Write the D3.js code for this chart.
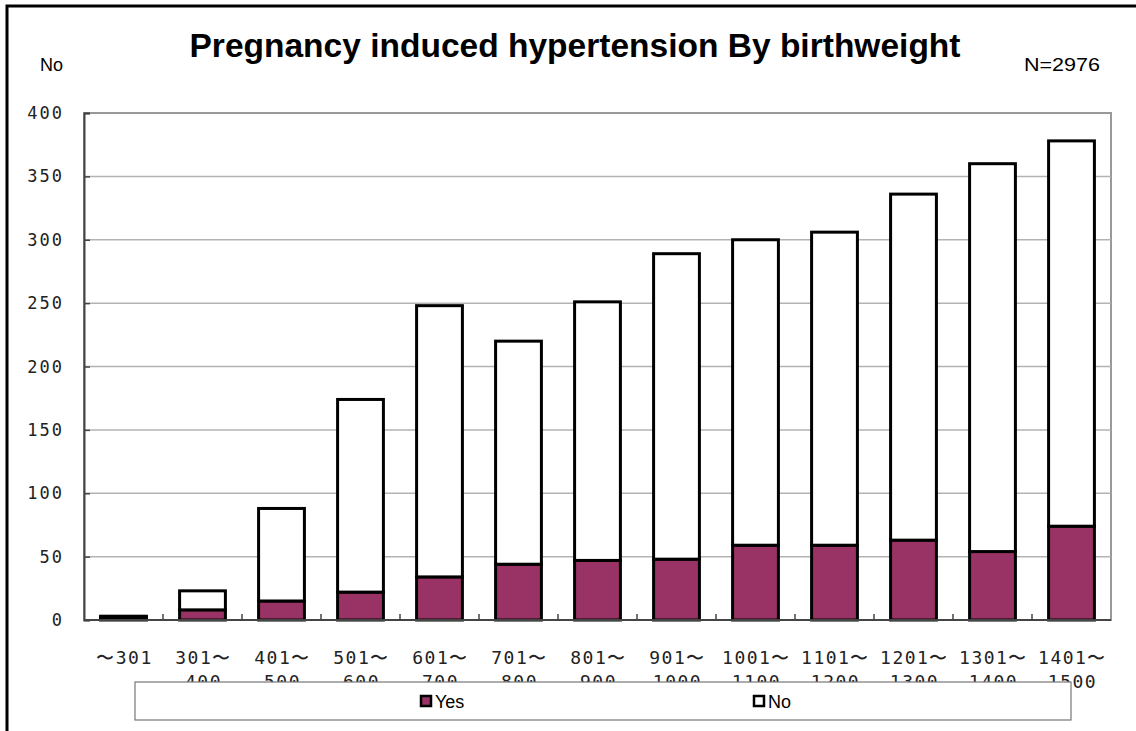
<!DOCTYPE html>
<html><head><meta charset="utf-8">
<script src="https://cdn.jsdelivr.net/npm/d3@7/dist/d3.min.js"></script>
<style>body{margin:0;background:#fff;}svg{display:block;}</style>
</head><body>
<svg id="chart" width="1136" height="731"></svg>
<script>
const categoriesLine1 = ["〜301","301〜","401〜","501〜","601〜","701〜","801〜","901〜","1001〜","1101〜","1201〜","1301〜","1401〜"];
const categoriesLine2 = ["","400","500","600","700","800","900","1000","1100","1200","1300","1400","1500"];
const yesValues = [2,8,15,22,34,44,47,48,59,59,63,54,74];
const noValues  = [1,15,73,152,214,176,204,241,241,247,273,306,304];
const yTicks = [0,50,100,150,200,250,300,350,400];
const seriesNames = ["Yes","No"];
const seriesColors = ["#993366","#ffffff"];

const svg = d3.select("#chart");
const m = {left:84, right:1111, top:113, bottom:620};
const x = d3.scaleBand().domain(d3.range(categoriesLine1.length)).range([m.left,m.right]).paddingInner(0.42).paddingOuter(0.21);
const xb = d3.scaleBand().domain(d3.range(categoriesLine1.length)).range([m.left,m.right]);
const y = d3.scaleLinear().domain([0,400]).range([m.bottom,m.top]);

// outer frame
svg.append("path").attr("d","M7,731 L7,6 L1136,6").attr("fill","none").attr("stroke","#000").attr("stroke-width",3);

// title
svg.append("text").attr("x",575).attr("y",57).attr("text-anchor","middle")
  .attr("font-family","'Liberation Sans', Arial, sans-serif").attr("font-weight","bold").attr("font-size",33)
  .attr("textLength",771).attr("lengthAdjust","spacingAndGlyphs")
  .text("Pregnancy induced hypertension By birthweight");
svg.append("text").attr("x",40).attr("y",71).attr("font-family","'Liberation Sans', Arial, sans-serif").attr("font-size",18).text("No");
svg.append("text").attr("x",1024).attr("y",71).attr("font-family","'Liberation Sans', Arial, sans-serif").attr("font-size",18)
  .attr("textLength",76).attr("lengthAdjust","spacingAndGlyphs").text("N=2976");

// plot area border
svg.append("rect").attr("x",m.left).attr("y",m.top).attr("width",m.right-m.left).attr("height",m.bottom-m.top)
  .attr("fill","none").attr("stroke","#999").attr("stroke-width",2);

// grid
svg.append("g").selectAll("line").data(yTicks.filter(d=>d>0&&d<400)).join("line")
  .attr("x1",m.left).attr("x2",m.right).attr("y1",d=>y(d)).attr("y2",d=>y(d)).attr("stroke","#b3b3b3").attr("stroke-width",1.5);

// y axis
const yAxis = d3.axisRight(y).tickValues(yTicks).tickSize(6).tickFormat("");
const ga = svg.append("g").attr("transform",`translate(${m.left},0)`).call(yAxis);
ga.select(".domain").attr("stroke","#444").attr("stroke-width",2);
ga.selectAll(".tick line").attr("stroke","#444").attr("stroke-width",1.5);
svg.append("g").selectAll("text").data(yTicks).join("text")
  .attr("x",64).attr("y",d=>y(d)+6).attr("text-anchor","end")
  .attr("font-family","'DejaVu Sans Mono', monospace").attr("font-size",17).attr("letter-spacing",2).attr("fill","#222").text(d=>d);

// stacked bars
const stackData = yesValues.map((v,i)=>({i, Yes:v, No:noValues[i]}));
const stack = d3.stack().keys(seriesNames)(stackData);
svg.append("g").selectAll("g").data(stack).join("g").attr("fill",(d,k)=>seriesColors[k])
  .selectAll("rect").data(d=>d).join("rect")
  .attr("x",d=>x(d.data.i)).attr("width",x.bandwidth())
  .attr("y",d=>y(d[1])).attr("height",d=>y(d[0])-y(d[1]))
  .attr("stroke","#000").attr("stroke-width",3);

// x axis line & ticks
svg.append("line").attr("x1",m.left).attr("x2",m.right).attr("y1",m.bottom).attr("y2",m.bottom).attr("stroke","#444").attr("stroke-width",2);
svg.append("g").selectAll("line").data(d3.range(1,categoriesLine1.length)).join("line")
  .attr("x1",d=>xb(d)).attr("x2",d=>xb(d)).attr("y1",m.bottom).attr("y2",m.bottom-6).attr("stroke","#444").attr("stroke-width",1.5);

// x labels
const xl = svg.append("g").attr("font-family","'DejaVu Sans Mono', monospace").attr("font-size",18).attr("letter-spacing",1.5).attr("fill","#222");
xl.selectAll("text.l1").data(categoriesLine1).join("text").attr("class","l1")
  .attr("x",(d,i)=>xb(i)+xb.bandwidth()/2+1).attr("y",664).attr("text-anchor","middle").text(d=>d);
xl.selectAll("text.l2").data(categoriesLine2).join("text").attr("class","l2")
  .attr("x",(d,i)=>xb(i)+xb.bandwidth()/2+1).attr("y",688).attr("text-anchor","middle").text(d=>d);

// legend
svg.append("rect").attr("x",135).attr("y",682).attr("width",936).attr("height",38).attr("fill","#fff").attr("stroke","#777").attr("stroke-width",1.2);
const lg = svg.append("g").selectAll("g").data(seriesNames).join("g")
  .attr("transform",(d,k)=>`translate(${[421,754][k]},696)`);
lg.append("rect").attr("width",10).attr("height",10).attr("fill",(d,k)=>seriesColors[k]).attr("stroke","#000").attr("stroke-width",2.5);
lg.append("text").attr("x",14).attr("y",12).attr("font-family","'Liberation Sans', Arial, sans-serif").attr("font-size",18).text(d=>d);
</script>
</body></html>
